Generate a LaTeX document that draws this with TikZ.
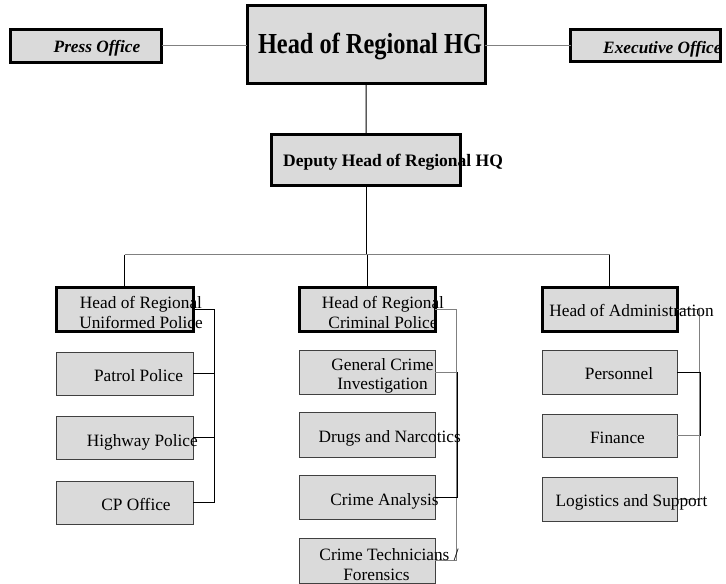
\documentclass[tikz,border=0pt]{standalone}
\usepackage{fontspec}
\setmainfont{Liberation Serif}
\definecolor{boxgray}{HTML}{DADADA}
\definecolor{linegray}{HTML}{808080}
\definecolor{edgegray}{HTML}{404040}
\tikzset{
  headbox/.style={draw=black, line width=3pt, fill=boxgray, inner sep=0pt, outer sep=0pt},
  subbox/.style={draw=edgegray, line width=1pt, fill=boxgray, inner sep=0pt, outer sep=0pt},
  txt/.style={inner sep=0pt, align=center, font=\fontsize{17.3}{19.5}\selectfont},
  btxt/.style={inner sep=0pt, align=center, font=\fontsize{17.5}{19.5}\selectfont\bfseries},
  bitxt/.style={inner sep=0pt, align=center, font=\fontsize{17.3}{19.5}\selectfont\bfseries\itshape},
  conn/.style={draw=linegray, line width=1pt},
  connk/.style={draw=black, line width=1pt}
}
\begin{document}
\begin{tikzpicture}[x=1pt,y=-1pt]
\useasboundingbox (0,0) rectangle (726,584);
% top boxes
\node[headbox, minimum width=151pt, minimum height=33pt] (press) at (86.4,45.5) {};
\node[headbox, minimum width=238pt, minimum height=78pt] (hq) at (366,44) {};
\node[headbox, minimum width=150pt, minimum height=32pt] (exec) at (645.7,45) {};
\node[headbox, minimum width=189pt, minimum height=51.7pt] (dep) at (366.2,159.9) {};
% left column
\node[headbox, minimum width=137pt, minimum height=44pt] (uh) at (124.5,309) {};
\node[subbox, minimum width=137pt, minimum height=43pt] (patrol) at (124.5,373.5) {};
\node[subbox, minimum width=137pt, minimum height=43pt] (hw) at (124.5,437.5) {};
\node[subbox, minimum width=137pt, minimum height=43pt] (cp) at (124.5,502.5) {};
% middle column
\node[headbox, minimum width=136pt, minimum height=44pt] (ch) at (367,309) {};
\node[subbox, minimum width=136pt, minimum height=44pt] (gen) at (367,372) {};
\node[subbox, minimum width=136pt, minimum height=45pt] (drugs) at (367,434.5) {};
\node[subbox, minimum width=136pt, minimum height=44pt] (ana) at (367,497) {};
\node[subbox, minimum width=136pt, minimum height=45pt] (tech) at (367,560.5) {};
% right column
\node[headbox, minimum width=135pt, minimum height=44pt] (ah) at (609.5,309) {};
\node[subbox, minimum width=135pt, minimum height=44pt] (pers) at (609.5,372) {};
\node[subbox, minimum width=135pt, minimum height=43pt] (fin) at (609.5,435.5) {};
\node[subbox, minimum width=135pt, minimum height=44pt] (log) at (609.5,499) {};
% coordinates for connectors
\coordinate (busy) at (0,254.5);
\coordinate (lbx) at (214,0);
\coordinate (mbx) at (456,0);
\coordinate (mbk) at (457,0);
\coordinate (rbx) at (699,0);
\coordinate (rbk) at (700,0);
% top connectors
\draw[conn] (press.east) -- (press.east -| hq.west);
\draw[conn] (hq.east |- exec.west) -- (exec.west);
\draw[connk] (hq.south) -- (dep.north);
\draw[connk] (dep.south) -- (dep.south |- busy);
\draw[conn] (uh.north |- busy) -- (ah.north |- busy);
\draw[connk] (uh.north |- busy) -- (uh.north);
\draw[connk] (ch.north |- busy) -- (ch.north);
\draw[connk] (ah.north |- busy) -- (ah.north);
% left bracket
\draw[connk] (uh.east) -- (uh.east -| lbx) -- (cp.east -| lbx) -- (cp.east);
\draw[connk] (patrol.east) -- (patrol.east -| lbx);
\draw[connk] (hw.east) -- (hw.east -| lbx);
% middle bracket
\draw[conn] (ch.east) -- (ch.east -| mbx) -- (tech.east -| mbx) -- (tech.east);
\draw[conn] (gen.east) -- (gen.east -| mbk);
\draw[connk] (gen.east -| mbk) -- (ana.east -| mbk) -- (ana.east);
% right bracket
\draw[conn] (ah.east) -- (ah.east -| rbx) -- (log.east -| rbx) -- (log.east);
\draw[connk] (pers.east) -- (pers.east -| rbk) -- (fin.east -| rbk);
\draw[conn] (fin.east) -- (fin.east -| rbx);
% texts
\node[bitxt, anchor=base] (tpress) at (97,52.3) {Press Office};
\node[bitxt, anchor=base] (texec) at (662.4,53.3) {Executive Office};
\node[inner sep=0pt, anchor=base, font=\fontsize{29}{30}\selectfont\bfseries] (thq) at (370,53.3) {\scalebox{0.84}[1]{Head of Regional HG}};
\node[btxt, anchor=base] (tdep) at (393,166.7) {Deputy Head of Regional HQ};
\node[txt] (tuh) at (141,312.3) {Head of Regional\\Uniformed Police};
\node[txt, anchor=base] (tpatrol) at (138.5,381.7) {Patrol Police};
\node[txt, anchor=base] (thw) at (142.3,446) {Highway Police};
\node[txt, anchor=base] (tcp) at (136,510) {CP Office};
\node[txt] (tch) at (383,312.3) {Head of Regional\\Criminal Police};
\node[txt] (tgen) at (382.5,376) {General Crime\\Investigation};
\node[txt, anchor=base] (tdrugs) at (389.7,442.7) {Drugs and Narcotics};
\node[txt, anchor=base] (tana) at (384.5,505) {Crime Analysis};
\node[txt] (ttech) at (389,564.7) {Crime Technicians /\\Forensics\hspace*{25pt}};
\node[txt, anchor=base] (tah) at (631.5,316) {Head of Administration};
\node[txt, anchor=base] (tpers) at (619,379.3) {Personnel};
\node[txt, anchor=base] (tfin) at (617.5,443.3) {Finance};
\node[txt, anchor=base] (tlog) at (631.5,506.7) {Logistics and Support};
\end{tikzpicture}
\end{document}
